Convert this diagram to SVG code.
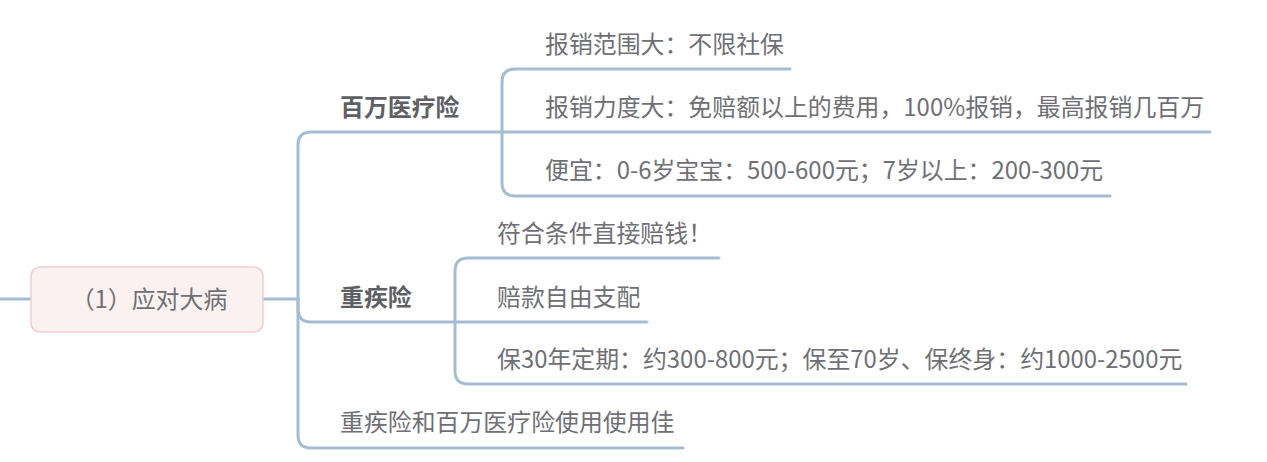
<svg xmlns="http://www.w3.org/2000/svg" width="1267" height="462" viewBox="0 0 1267 462">
<style>
.c{fill:none;stroke:#a3bdd3;stroke-width:3;stroke-linecap:round}
.t{font-family:"Noto Sans CJK SC","Noto Sans",sans-serif;font-size:23.9px;fill:#6f6f75}
.b{font-weight:bold;fill:#5f5f66}
</style>
<rect width="1267" height="462" fill="#ffffff"/>
<g id="connectors">
<path class="c" d="M0 299 H31"/>
<path class="c" d="M263 299 H298"/>
<path class="c" d="M298 299 V145 Q298 132 311 132 H502"/>
<path class="c" d="M298 299 V309 Q298 322 311 322 H455"/>
<path class="c" d="M298 299 V435 Q298 448 311 448 H683"/>
<path class="c" d="M502 132 V82 Q502 69 515 69 H790"/>
<path class="c" d="M502 132 H1210"/>
<path class="c" d="M502 132 V183 Q502 196 515 196 H1110"/>
<path class="c" d="M455 322 V271 Q455 258 468 258 H719"/>
<path class="c" d="M455 322 H647"/>
<path class="c" d="M455 322 V371 Q455 384 468 384 H1186"/>
</g>
<g id="root">
<rect x="31" y="267" width="232" height="65" rx="9" fill="#fcf1f1" stroke="#f2cdcd" stroke-width="1.5"/>
<text class="t" x="149" y="307.5" text-anchor="middle">（1）应对大病</text>
</g>
<g id="n-baiwan"><text class="t b" x="340" y="116">百万医疗险</text></g>
<g id="n-baoxiao1"><text class="t" x="545" y="53">报销范围大：不限社保</text></g>
<g id="n-baoxiao2"><text class="t" x="545" y="116">报销力度大：免赔额以上的费用，100%报销，最高报销几百万</text></g>
<g id="n-pianyi"><text class="t" x="545" y="179">便宜：0-6岁宝宝：500-600元；7岁以上：200-300元</text></g>
<g id="n-zhongji"><text class="t b" x="340" y="306">重疾险</text></g>
<g id="n-fuhe"><text class="t" x="497" y="242">符合条件直接赔钱！</text></g>
<g id="n-peikuan"><text class="t" x="497" y="306">赔款自由支配</text></g>
<g id="n-bao30"><text class="t" x="497" y="368">保30年定期：约300-800元；保至70岁、保终身：约1000-2500元</text></g>
<g id="n-combo"><text class="t" x="340" y="431">重疾险和百万医疗险使用使用佳</text></g>
</svg>
